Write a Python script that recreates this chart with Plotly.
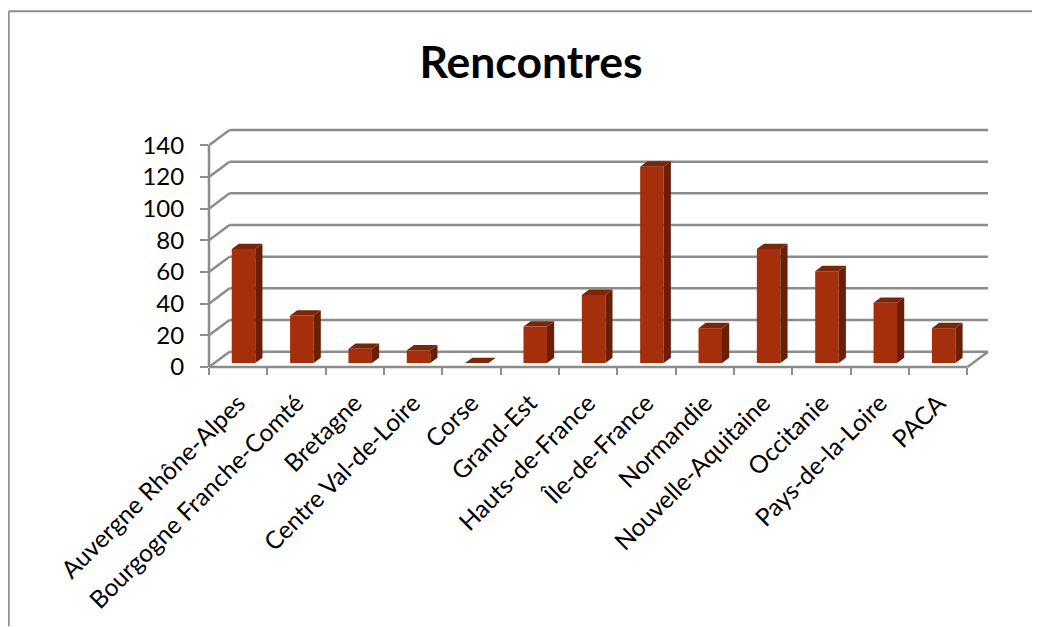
import plotly.graph_objects as go

regions = ["Auvergne Rhône-Alpes", "Bourgogne Franche-Comté", "Bretagne", "Centre Val-de-Loire",
           "Corse", "Grand-Est", "Hauts-de-France", "Île-de-France", "Normandie",
           "Nouvelle-Aquitaine", "Occitanie", "Pays-de-la-Loire", "PACA"]
rencontres = [72, 30, 9, 8, 0, 23, 43, 124, 22, 72, 58, 38, 22]
y_ticks = [0, 20, 40, 60, 80, 100, 120, 140]
title = "Rencontres"

FRONT = "#A52F0A"
TOP = "#7C2609"
SIDE = "#6A1E06"
GRID = "#8C8C8C"
FONT = "Lato"

OFF = 8  # page margin of the browser
W, H = 1040 - OFF, 627 - OFF
L, R, T, B = 209 - OFF, 988.5 - OFF, 130 - OFF, 367.3 - OFF
px_x = (967 - 209) / 13
px_y = (B - (145.3 - OFF)) / 140
wall_dx = 20.5 / px_x
wall_dy = 15.3 / px_y
x_min, x_max = -0.5, 12.5 + wall_dx
y_max = 140 + wall_dy

bar_w = 23.5 / px_x
near = 0.26
depth = 0.35
n = len(regions)
centers = [i + near * wall_dx for i in range(n)]
base = near * wall_dy
ddx, ddy = depth * wall_dx, depth * wall_dy

def xp(x): return (x - x_min) / (x_max - x_min)
def yp(y): return y / y_max

shapes = []
def seg(x0, y0, x1, y1):
    shapes.append(dict(type="line", xref="paper", yref="paper",
                       x0=xp(x0), y0=yp(y0), x1=xp(x1), y1=yp(y1),
                       layer="below", line=dict(color=GRID, width=2.5)))

for t in y_ticks:
    seg(x_min, t, x_min + wall_dx, t + wall_dy)
    seg(x_min + wall_dx, t + wall_dy, x_max, t + wall_dy)
seg(x_min, 0, x_min, 140)
seg(x_min, 0, 12.5, 0)
seg(12.5, 0, x_max, wall_dy)

# chart frame (open on the right and at the bottom of the picture)
def fx(p): return (p - OFF - L) / (R - L)
def fy(p): return (B - (p - OFF)) / (B - T)
for a, b, c, d in [(8.5, 11, 1040, 11), (8.5, 11, 8.5, 627)]:
    shapes.append(dict(type="line", xref="paper", yref="paper", x0=fx(a), y0=fy(b), x1=fx(c), y1=fy(d),
                       layer="below", line=dict(color=GRID, width=2)))

side_x, side_y, top_x, top_y = [], [], [], []
for c, v in zip(centers, rencontres):
    xr = c + bar_w / 2
    xl = c - bar_w / 2
    h = base + v
    side_x += [xr, xr + ddx, xr + ddx, xr, xr, None]
    side_y += [base, base + ddy, h + ddy, h, base, None]
    top_x += [xl, xr, xr + ddx, xl + ddx, xl, None]
    top_y += [h, h, h + ddy, h + ddy, h, None]

fig = go.Figure()
fig.add_trace(go.Bar(x=centers, y=rencontres, base=base, width=bar_w,
                     marker=dict(color=FRONT, line=dict(width=0)), hoverinfo="skip"))
fig.add_trace(go.Scatter(x=side_x, y=side_y, mode="lines", fill="toself", fillcolor=SIDE,
                         line=dict(width=0, color=SIDE), hoverinfo="skip"))
fig.add_trace(go.Scatter(x=top_x, y=top_y, mode="lines", fill="toself", fillcolor=TOP,
                         line=dict(width=0, color=TOP), hoverinfo="skip"))
# invisible carrier for the second x axis, which draws the tick marks between categories
fig.add_trace(go.Scatter(x=[x_min], y=[0], xaxis="x2", mode="markers",
                         marker=dict(opacity=0), hoverinfo="skip"))

fig.update_layout(
    width=W, height=H, autosize=False, showlegend=False,
    paper_bgcolor="white", plot_bgcolor="rgba(0,0,0,0)",
    margin=dict(l=L, r=W - R, t=T, b=H - B, pad=0),
    font=dict(family=FONT, color="black"),
    title=dict(text=f"<b>{title}</b>", x=(531 - OFF) / W, xanchor="center",
               y=1 - (62 - OFF) / H, yanchor="middle",
               font=dict(family=FONT, size=44.5, color="black")),
    xaxis=dict(range=[x_min, x_max], tickmode="array", tickvals=list(range(n)), ticktext=regions,
               tickangle=-45, ticks="", showgrid=False, zeroline=False, showline=False,
               tickfont=dict(family=FONT, size=24.5), ticklabelstandoff=16),
    xaxis2=dict(range=[x_min, x_max], overlaying="x", side="bottom", anchor="y",
                tickmode="array", tickvals=[i - 0.5 for i in range(n + 1)], showticklabels=False,
                ticks="outside", ticklen=7, tickwidth=2, tickcolor=GRID,
                showgrid=False, zeroline=False, showline=False),
    yaxis=dict(range=[0, y_max], tickmode="array", tickvals=y_ticks, ticks="outside", ticklen=8,
               tickwidth=2, tickcolor=GRID, showgrid=False, zeroline=False, showline=False,
               tickfont=dict(family=FONT, size=24), ticklabelstandoff=11),
    shapes=shapes,
)
fig.write_html("out.html")
